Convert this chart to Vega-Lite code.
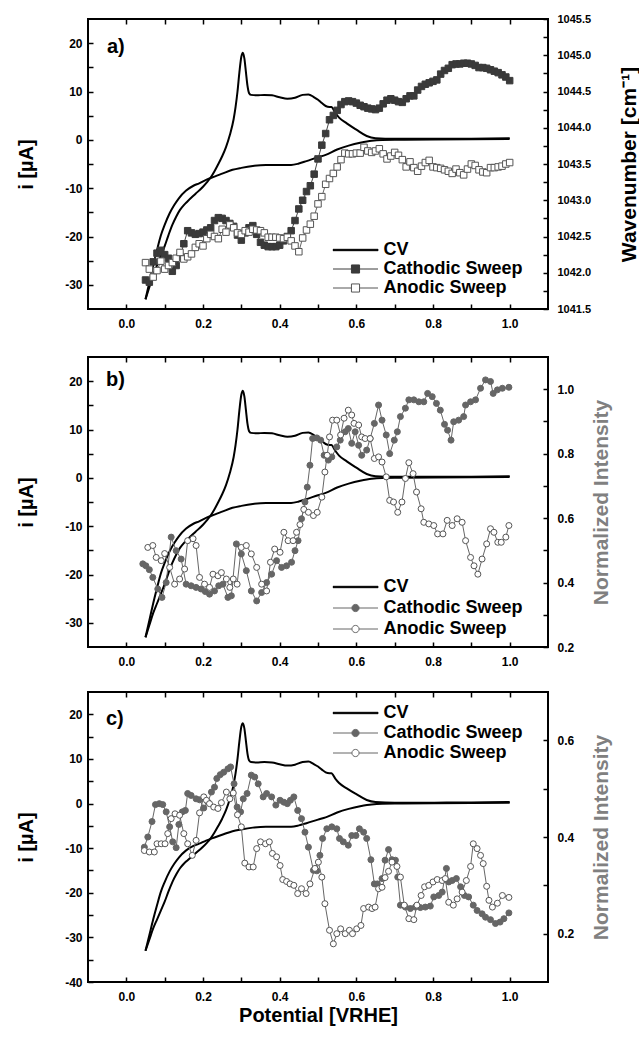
{
"$schema":"https://vega.github.io/schema/vega-lite/v6.json",
"padding":{"left":15,"top":12,"right":0,"bottom":0},
"config":{
 "font":"Liberation Sans",
 "view":{"stroke":"black","strokeWidth":2},
 "axis":{"domain":false,"grid":false,"tickColor":"black","tickWidth":1.5,"tickSize":-5,"labelFont":"Liberation Sans","labelFontSize":12,"labelFontWeight":"bold","labelColor":"black","titleFont":"Liberation Sans","titleFontSize":20,"titleFontWeight":"bold","titleColor":"black","labelOverlap":false,"labelFlush":false,"labelBound":false},
 "legend":{"labelFont":"Liberation Sans","labelFontSize":18,"labelFontWeight":"bold","labelColor":"black","padding":0,"orient":"none"},
 "title":{"font":"Liberation Sans","fontSize":20,"fontWeight":"bold","color":"black","anchor":"start","frame":"group","orient":"top","baseline":"alphabetic"}
},
"datasets":{
"cv":[
{"E":0.05,"I":-33,"br":"p"},{"E":0.06,"I":-30.5,"br":"p"},{"E":0.07,"I":-28,"br":"p"},{"E":0.08,"I":-26,"br":"p"},{"E":0.09,"I":-24,"br":"p"},{"E":0.1,"I":-22,"br":"p"},{"E":0.11,"I":-19.7,"br":"p"},{"E":0.12,"I":-17.6,"br":"p"},{"E":0.13,"I":-15.9,"br":"p"},{"E":0.14,"I":-14.5,"br":"p"},{"E":0.15,"I":-13.5,"br":"p"},{"E":0.16,"I":-12.7,"br":"p"},{"E":0.18,"I":-11.2,"br":"p"},{"E":0.2,"I":-9.7,"br":"p"},{"E":0.21,"I":-8.8,"br":"p"},{"E":0.22,"I":-7.8,"br":"p"},{"E":0.23,"I":-6.5,"br":"p"},{"E":0.24,"I":-5.0,"br":"p"},{"E":0.25,"I":-3.4,"br":"p"},{"E":0.26,"I":-1.5,"br":"p"},{"E":0.27,"I":1.0,"br":"p"},{"E":0.28,"I":4.3,"br":"p"},{"E":0.285,"I":6.8,"br":"p"},{"E":0.29,"I":10.0,"br":"p"},{"E":0.295,"I":14.0,"br":"p"},{"E":0.3,"I":17.2,"br":"p"},{"E":0.304,"I":18.0,"br":"p"},{"E":0.308,"I":16.8,"br":"p"},{"E":0.312,"I":14.0,"br":"p"},{"E":0.316,"I":11.2,"br":"p"},{"E":0.32,"I":9.7,"br":"p"},{"E":0.325,"I":9.3,"br":"p"},{"E":0.34,"I":9.2,"br":"p"},{"E":0.36,"I":9.3,"br":"p"},{"E":0.38,"I":9.2,"br":"p"},{"E":0.4,"I":8.8,"br":"p"},{"E":0.42,"I":8.5,"br":"p"},{"E":0.44,"I":8.7,"br":"p"},{"E":0.46,"I":9.3,"br":"p"},{"E":0.475,"I":9.4,"br":"p"},{"E":0.49,"I":8.8,"br":"p"},{"E":0.5,"I":8.3,"br":"p"},{"E":0.51,"I":7.6,"br":"p"},{"E":0.52,"I":7.0,"br":"p"},{"E":0.53,"I":6.8,"br":"p"},{"E":0.535,"I":6.8,"br":"p"},{"E":0.545,"I":5.6,"br":"p"},{"E":0.555,"I":4.6,"br":"p"},{"E":0.575,"I":3.4,"br":"p"},{"E":0.6,"I":2.1,"br":"p"},{"E":0.627,"I":0.8,"br":"p"},{"E":0.65,"I":0.35,"br":"p"},{"E":0.7,"I":0.2,"br":"p"},{"E":0.8,"I":0.2,"br":"p"},{"E":0.9,"I":0.25,"br":"p"},{"E":1.0,"I":0.35,"br":"p"},
{"E":0.05,"I":-33,"br":"l"},{"E":0.06,"I":-29.5,"br":"l"},{"E":0.07,"I":-26,"br":"l"},{"E":0.08,"I":-22.8,"br":"l"},{"E":0.09,"I":-19.8,"br":"l"},{"E":0.1,"I":-17.6,"br":"l"},{"E":0.113,"I":-15.2,"br":"l"},{"E":0.125,"I":-13.5,"br":"l"},{"E":0.137,"I":-12.1,"br":"l"},{"E":0.156,"I":-10.5,"br":"l"},{"E":0.175,"I":-9.5,"br":"l"},{"E":0.19,"I":-9.0,"br":"l"},{"E":0.208,"I":-8.3,"br":"l"},{"E":0.23,"I":-7.6,"br":"l"},{"E":0.25,"I":-7.0,"br":"l"},{"E":0.277,"I":-6.2,"br":"l"},{"E":0.3,"I":-5.8,"br":"l"},{"E":0.33,"I":-5.4,"br":"l"},{"E":0.364,"I":-5.2,"br":"l"},{"E":0.4,"I":-5.2,"br":"l"},{"E":0.43,"I":-5.2,"br":"l"},{"E":0.45,"I":-4.9,"br":"l"},{"E":0.47,"I":-4.4,"br":"l"},{"E":0.5,"I":-3.6,"br":"l"},{"E":0.52,"I":-3.1,"br":"l"},{"E":0.55,"I":-2.0,"br":"l"},{"E":0.58,"I":-1.2,"br":"l"},{"E":0.61,"I":-0.6,"br":"l"},{"E":0.64,"I":-0.2,"br":"l"},{"E":0.7,"I":0.0,"br":"l"},{"E":0.8,"I":0.05,"br":"l"},{"E":0.9,"I":0.1,"br":"l"},{"E":1.0,"I":0.2,"br":"l"}
],
"aC":[
{"E":0.05,"v":1041.90},{"E":0.06,"v":1041.87},{"E":0.07,"v":1042.15},{"E":0.08,"v":1042.27},{"E":0.09,"v":1042.31},{"E":0.1,"v":1042.25},{"E":0.11,"v":1042.2},{"E":0.12,"v":1042.02},{"E":0.13,"v":1042.1},{"E":0.14,"v":1042.22},{"E":0.15,"v":1042.4},{"E":0.16,"v":1042.58},{"E":0.17,"v":1042.55},{"E":0.18,"v":1042.53},{"E":0.19,"v":1042.54},{"E":0.2,"v":1042.56},{"E":0.21,"v":1042.59},{"E":0.22,"v":1042.62},{"E":0.23,"v":1042.72},{"E":0.24,"v":1042.76},{"E":0.25,"v":1042.75},{"E":0.26,"v":1042.72},{"E":0.27,"v":1042.68},{"E":0.28,"v":1042.64},{"E":0.29,"v":1042.52},{"E":0.3,"v":1042.45},{"E":0.31,"v":1042.55},{"E":0.32,"v":1042.62},{"E":0.33,"v":1042.65},{"E":0.34,"v":1042.53},{"E":0.35,"v":1042.42},{"E":0.36,"v":1042.38},{"E":0.37,"v":1042.36},{"E":0.38,"v":1042.36},{"E":0.39,"v":1042.36},{"E":0.4,"v":1042.38},{"E":0.41,"v":1042.44},{"E":0.42,"v":1042.5},{"E":0.43,"v":1042.58},{"E":0.44,"v":1042.72},{"E":0.45,"v":1042.88},{"E":0.46,"v":1043.0},{"E":0.47,"v":1043.12},{"E":0.48,"v":1043.2},{"E":0.49,"v":1043.36},{"E":0.5,"v":1043.57},{"E":0.51,"v":1043.76},{"E":0.52,"v":1043.92},{"E":0.53,"v":1044.11},{"E":0.54,"v":1044.17},{"E":0.55,"v":1044.24},{"E":0.56,"v":1044.32},{"E":0.57,"v":1044.36},{"E":0.58,"v":1044.37},{"E":0.59,"v":1044.36},{"E":0.6,"v":1044.34},{"E":0.61,"v":1044.31},{"E":0.62,"v":1044.29},{"E":0.63,"v":1044.27},{"E":0.64,"v":1044.26},{"E":0.65,"v":1044.25},{"E":0.66,"v":1044.27},{"E":0.67,"v":1044.33},{"E":0.68,"v":1044.38},{"E":0.69,"v":1044.4},{"E":0.7,"v":1044.38},{"E":0.71,"v":1044.36},{"E":0.72,"v":1044.35},{"E":0.73,"v":1044.4},{"E":0.74,"v":1044.44},{"E":0.75,"v":1044.44},{"E":0.76,"v":1044.52},{"E":0.77,"v":1044.57},{"E":0.78,"v":1044.6},{"E":0.79,"v":1044.62},{"E":0.8,"v":1044.64},{"E":0.81,"v":1044.66},{"E":0.82,"v":1044.74},{"E":0.83,"v":1044.79},{"E":0.84,"v":1044.82},{"E":0.85,"v":1044.87},{"E":0.86,"v":1044.88},{"E":0.87,"v":1044.88},{"E":0.88,"v":1044.89},{"E":0.89,"v":1044.89},{"E":0.9,"v":1044.88},{"E":0.91,"v":1044.86},{"E":0.92,"v":1044.83},{"E":0.93,"v":1044.83},{"E":0.94,"v":1044.82},{"E":0.95,"v":1044.8},{"E":0.96,"v":1044.78},{"E":0.97,"v":1044.76},{"E":0.98,"v":1044.73},{"E":0.99,"v":1044.7},{"E":1.0,"v":1044.65}
],
"aA":[
{"E":0.05,"v":1042.14},{"E":0.06,"v":1042.05},{"E":0.07,"v":1041.94},{"E":0.08,"v":1042.03},{"E":0.09,"v":1042.16},{"E":0.1,"v":1042.05},{"E":0.11,"v":1042.1},{"E":0.12,"v":1042.14},{"E":0.13,"v":1042.2},{"E":0.14,"v":1042.28},{"E":0.15,"v":1042.19},{"E":0.16,"v":1042.22},{"E":0.17,"v":1042.26},{"E":0.18,"v":1042.35},{"E":0.19,"v":1042.4},{"E":0.2,"v":1042.37},{"E":0.21,"v":1042.47},{"E":0.22,"v":1042.53},{"E":0.23,"v":1042.5},{"E":0.24,"v":1042.47},{"E":0.25,"v":1042.6},{"E":0.26,"v":1042.56},{"E":0.27,"v":1042.66},{"E":0.28,"v":1042.62},{"E":0.29,"v":1042.55},{"E":0.3,"v":1042.53},{"E":0.31,"v":1042.58},{"E":0.32,"v":1042.56},{"E":0.33,"v":1042.6},{"E":0.34,"v":1042.59},{"E":0.35,"v":1042.58},{"E":0.36,"v":1042.55},{"E":0.37,"v":1042.49},{"E":0.38,"v":1042.49},{"E":0.39,"v":1042.49},{"E":0.4,"v":1042.48},{"E":0.41,"v":1042.47},{"E":0.42,"v":1042.49},{"E":0.43,"v":1042.44},{"E":0.44,"v":1042.37},{"E":0.45,"v":1042.29},{"E":0.46,"v":1042.48},{"E":0.47,"v":1042.59},{"E":0.48,"v":1042.67},{"E":0.49,"v":1042.78},{"E":0.5,"v":1042.95},{"E":0.51,"v":1043.05},{"E":0.52,"v":1043.22},{"E":0.53,"v":1043.3},{"E":0.54,"v":1043.37},{"E":0.55,"v":1043.46},{"E":0.56,"v":1043.56},{"E":0.57,"v":1043.65},{"E":0.58,"v":1043.64},{"E":0.59,"v":1043.64},{"E":0.6,"v":1043.65},{"E":0.61,"v":1043.65},{"E":0.62,"v":1043.73},{"E":0.63,"v":1043.68},{"E":0.64,"v":1043.66},{"E":0.65,"v":1043.68},{"E":0.66,"v":1043.71},{"E":0.67,"v":1043.64},{"E":0.68,"v":1043.57},{"E":0.69,"v":1043.61},{"E":0.7,"v":1043.66},{"E":0.71,"v":1043.62},{"E":0.72,"v":1043.56},{"E":0.73,"v":1043.46},{"E":0.74,"v":1043.53},{"E":0.75,"v":1043.45},{"E":0.76,"v":1043.4},{"E":0.77,"v":1043.47},{"E":0.78,"v":1043.52},{"E":0.79,"v":1043.55},{"E":0.8,"v":1043.46},{"E":0.81,"v":1043.45},{"E":0.82,"v":1043.44},{"E":0.83,"v":1043.42},{"E":0.84,"v":1043.4},{"E":0.85,"v":1043.37},{"E":0.86,"v":1043.43},{"E":0.87,"v":1043.38},{"E":0.88,"v":1043.35},{"E":0.89,"v":1043.43},{"E":0.9,"v":1043.5},{"E":0.91,"v":1043.48},{"E":0.92,"v":1043.42},{"E":0.93,"v":1043.39},{"E":0.94,"v":1043.38},{"E":0.95,"v":1043.45},{"E":0.96,"v":1043.45},{"E":0.97,"v":1043.46},{"E":0.98,"v":1043.47},{"E":0.99,"v":1043.5},{"E":1.0,"v":1043.52}
],
"bC":[
{"E":0.043,"v":0.458},{"E":0.051,"v":0.452},{"E":0.06,"v":0.44},{"E":0.069,"v":0.416},{"E":0.082,"v":0.38},{"E":0.093,"v":0.354},{"E":0.104,"v":0.4},{"E":0.117,"v":0.541},{"E":0.13,"v":0.499},{"E":0.143,"v":0.473},{"E":0.156,"v":0.395},{"E":0.169,"v":0.39},{"E":0.182,"v":0.385},{"E":0.195,"v":0.38},{"E":0.206,"v":0.372},{"E":0.217,"v":0.364},{"E":0.23,"v":0.374},{"E":0.241,"v":0.39},{"E":0.252,"v":0.395},{"E":0.265,"v":0.354},{"E":0.274,"v":0.359},{"E":0.287,"v":0.52},{"E":0.3,"v":0.489},{"E":0.313,"v":0.437},{"E":0.326,"v":0.374},{"E":0.34,"v":0.343},{"E":0.353,"v":0.369},{"E":0.366,"v":0.4},{"E":0.379,"v":0.426},{"E":0.392,"v":0.468},{"E":0.405,"v":0.447},{"E":0.418,"v":0.452},{"E":0.431,"v":0.463},{"E":0.44,"v":0.499},{"E":0.448,"v":0.53},{"E":0.457,"v":0.598},{"E":0.466,"v":0.65},{"E":0.472,"v":0.696},{"E":0.479,"v":0.764},{"E":0.486,"v":0.847},{"E":0.497,"v":0.849},{"E":0.507,"v":0.842},{"E":0.516,"v":0.795},{"E":0.527,"v":0.78},{"E":0.536,"v":0.79},{"E":0.549,"v":0.821},{"E":0.558,"v":0.842},{"E":0.571,"v":0.868},{"E":0.579,"v":0.878},{"E":0.588,"v":0.832},{"E":0.597,"v":0.868},{"E":0.606,"v":0.826},{"E":0.614,"v":0.795},{"E":0.627,"v":0.811},{"E":0.636,"v":0.847},{"E":0.647,"v":0.894},{"E":0.658,"v":0.951},{"E":0.667,"v":0.904},{"E":0.678,"v":0.858},{"E":0.687,"v":0.8},{"E":0.699,"v":0.842},{"E":0.707,"v":0.868},{"E":0.715,"v":0.915},{"E":0.728,"v":0.941},{"E":0.737,"v":0.967},{"E":0.75,"v":0.967},{"E":0.763,"v":0.961},{"E":0.776,"v":0.961},{"E":0.786,"v":0.987},{"E":0.798,"v":0.977},{"E":0.809,"v":0.956},{"E":0.819,"v":0.935},{"E":0.83,"v":0.891},{"E":0.838,"v":0.873},{"E":0.847,"v":0.842},{"E":0.854,"v":0.899},{"E":0.867,"v":0.904},{"E":0.88,"v":0.915},{"E":0.885,"v":0.951},{"E":0.898,"v":0.961},{"E":0.911,"v":0.967},{"E":0.924,"v":1.003},{"E":0.937,"v":1.029},{"E":0.95,"v":1.024},{"E":0.957,"v":0.987},{"E":0.968,"v":0.998},{"E":0.981,"v":1.003},{"E":0.998,"v":1.006}
],
"bA":[
{"E":0.056,"v":0.509},{"E":0.069,"v":0.515},{"E":0.078,"v":0.478},{"E":0.091,"v":0.468},{"E":0.1,"v":0.49},{"E":0.113,"v":0.447},{"E":0.126,"v":0.395},{"E":0.139,"v":0.411},{"E":0.152,"v":0.442},{"E":0.16,"v":0.53},{"E":0.174,"v":0.536},{"E":0.182,"v":0.515},{"E":0.191,"v":0.416},{"E":0.204,"v":0.395},{"E":0.217,"v":0.385},{"E":0.226,"v":0.426},{"E":0.239,"v":0.421},{"E":0.248,"v":0.431},{"E":0.261,"v":0.411},{"E":0.27,"v":0.385},{"E":0.279,"v":0.411},{"E":0.289,"v":0.395},{"E":0.3,"v":0.509},{"E":0.313,"v":0.515},{"E":0.326,"v":0.489},{"E":0.34,"v":0.447},{"E":0.353,"v":0.395},{"E":0.366,"v":0.374},{"E":0.376,"v":0.463},{"E":0.387,"v":0.504},{"E":0.401,"v":0.494},{"E":0.411,"v":0.556},{"E":0.422,"v":0.53},{"E":0.435,"v":0.53},{"E":0.444,"v":0.556},{"E":0.453,"v":0.58},{"E":0.463,"v":0.627},{"E":0.475,"v":0.618},{"E":0.488,"v":0.608},{"E":0.498,"v":0.618},{"E":0.51,"v":0.665},{"E":0.518,"v":0.743},{"E":0.524,"v":0.795},{"E":0.53,"v":0.852},{"E":0.538,"v":0.904},{"E":0.549,"v":0.904},{"E":0.559,"v":0.858},{"E":0.568,"v":0.91},{"E":0.579,"v":0.935},{"E":0.588,"v":0.92},{"E":0.594,"v":0.894},{"E":0.606,"v":0.889},{"E":0.614,"v":0.852},{"E":0.623,"v":0.847},{"E":0.636,"v":0.847},{"E":0.647,"v":0.785},{"E":0.658,"v":0.79},{"E":0.667,"v":0.774},{"E":0.678,"v":0.728},{"E":0.687,"v":0.655},{"E":0.697,"v":0.65},{"E":0.708,"v":0.618},{"E":0.719,"v":0.65},{"E":0.728,"v":0.723},{"E":0.737,"v":0.772},{"E":0.748,"v":0.738},{"E":0.757,"v":0.681},{"E":0.769,"v":0.629},{"E":0.776,"v":0.587},{"E":0.789,"v":0.582},{"E":0.802,"v":0.577},{"E":0.812,"v":0.551},{"E":0.826,"v":0.551},{"E":0.837,"v":0.593},{"E":0.85,"v":0.577},{"E":0.863,"v":0.598},{"E":0.876,"v":0.587},{"E":0.885,"v":0.53},{"E":0.898,"v":0.478},{"E":0.907,"v":0.452},{"E":0.917,"v":0.426},{"E":0.928,"v":0.473},{"E":0.94,"v":0.52},{"E":0.95,"v":0.567},{"E":0.959,"v":0.556},{"E":0.969,"v":0.525},{"E":0.978,"v":0.525},{"E":0.99,"v":0.541},{"E":0.998,"v":0.577}
],
"cC":[
{"E":0.047,"v":0.379},{"E":0.056,"v":0.4},{"E":0.067,"v":0.432},{"E":0.076,"v":0.467},{"E":0.086,"v":0.469},{"E":0.095,"v":0.467},{"E":0.104,"v":0.452},{"E":0.113,"v":0.421},{"E":0.121,"v":0.39},{"E":0.13,"v":0.378},{"E":0.137,"v":0.426},{"E":0.146,"v":0.452},{"E":0.154,"v":0.455},{"E":0.16,"v":0.49},{"E":0.169,"v":0.486},{"E":0.182,"v":0.479},{"E":0.191,"v":0.477},{"E":0.202,"v":0.46},{"E":0.213,"v":0.472},{"E":0.222,"v":0.493},{"E":0.23,"v":0.503},{"E":0.236,"v":0.521},{"E":0.245,"v":0.529},{"E":0.254,"v":0.534},{"E":0.265,"v":0.541},{"E":0.272,"v":0.545},{"E":0.281,"v":0.51},{"E":0.289,"v":0.462},{"E":0.298,"v":0.452},{"E":0.305,"v":0.479},{"E":0.315,"v":0.49},{"E":0.326,"v":0.528},{"E":0.335,"v":0.524},{"E":0.344,"v":0.51},{"E":0.357,"v":0.483},{"E":0.366,"v":0.49},{"E":0.379,"v":0.483},{"E":0.39,"v":0.466},{"E":0.401,"v":0.476},{"E":0.411,"v":0.472},{"E":0.42,"v":0.469},{"E":0.428,"v":0.476},{"E":0.437,"v":0.483},{"E":0.447,"v":0.455},{"E":0.457,"v":0.438},{"E":0.466,"v":0.41},{"E":0.475,"v":0.379},{"E":0.488,"v":0.331},{"E":0.497,"v":0.33},{"E":0.505,"v":0.362},{"E":0.512,"v":0.397},{"E":0.523,"v":0.417},{"E":0.536,"v":0.421},{"E":0.549,"v":0.417},{"E":0.556,"v":0.397},{"E":0.566,"v":0.39},{"E":0.579,"v":0.383},{"E":0.588,"v":0.403},{"E":0.599,"v":0.403},{"E":0.608,"v":0.417},{"E":0.619,"v":0.41},{"E":0.627,"v":0.397},{"E":0.638,"v":0.353},{"E":0.647,"v":0.303},{"E":0.655,"v":0.303},{"E":0.667,"v":0.314},{"E":0.675,"v":0.352},{"E":0.684,"v":0.374},{"E":0.693,"v":0.353},{"E":0.702,"v":0.352},{"E":0.708,"v":0.317},{"E":0.715,"v":0.259},{"E":0.728,"v":0.255},{"E":0.741,"v":0.252},{"E":0.754,"v":0.255},{"E":0.767,"v":0.254},{"E":0.78,"v":0.255},{"E":0.793,"v":0.257},{"E":0.802,"v":0.276},{"E":0.815,"v":0.279},{"E":0.824,"v":0.286},{"E":0.835,"v":0.335},{"E":0.841,"v":0.307},{"E":0.85,"v":0.31},{"E":0.861,"v":0.314},{"E":0.872,"v":0.297},{"E":0.882,"v":0.279},{"E":0.893,"v":0.276},{"E":0.905,"v":0.259},{"E":0.915,"v":0.248},{"E":0.928,"v":0.241},{"E":0.937,"v":0.234},{"E":0.95,"v":0.229},{"E":0.963,"v":0.221},{"E":0.975,"v":0.224},{"E":0.985,"v":0.231},{"E":0.998,"v":0.243}
],
"cA":[
{"E":0.047,"v":0.372},{"E":0.06,"v":0.369},{"E":0.073,"v":0.369},{"E":0.08,"v":0.386},{"E":0.091,"v":0.386},{"E":0.101,"v":0.386},{"E":0.108,"v":0.407},{"E":0.117,"v":0.438},{"E":0.127,"v":0.448},{"E":0.139,"v":0.445},{"E":0.15,"v":0.407},{"E":0.16,"v":0.386},{"E":0.172,"v":0.362},{"E":0.182,"v":0.393},{"E":0.191,"v":0.45},{"E":0.202,"v":0.483},{"E":0.209,"v":0.476},{"E":0.217,"v":0.469},{"E":0.228,"v":0.462},{"E":0.239,"v":0.459},{"E":0.248,"v":0.471},{"E":0.261,"v":0.493},{"E":0.27,"v":0.479},{"E":0.279,"v":0.491},{"E":0.29,"v":0.446},{"E":0.3,"v":0.421},{"E":0.309,"v":0.346},{"E":0.32,"v":0.338},{"E":0.331,"v":0.338},{"E":0.34,"v":0.376},{"E":0.35,"v":0.39},{"E":0.363,"v":0.386},{"E":0.373,"v":0.39},{"E":0.381,"v":0.366},{"E":0.392,"v":0.359},{"E":0.401,"v":0.341},{"E":0.408,"v":0.312},{"E":0.418,"v":0.308},{"E":0.427,"v":0.303},{"E":0.437,"v":0.3},{"E":0.447,"v":0.283},{"E":0.457,"v":0.293},{"E":0.469,"v":0.283},{"E":0.479,"v":0.303},{"E":0.492,"v":0.335},{"E":0.501,"v":0.348},{"E":0.51,"v":0.317},{"E":0.518,"v":0.262},{"E":0.53,"v":0.207},{"E":0.54,"v":0.179},{"E":0.549,"v":0.2},{"E":0.559,"v":0.21},{"E":0.571,"v":0.2},{"E":0.582,"v":0.207},{"E":0.59,"v":0.2},{"E":0.601,"v":0.21},{"E":0.612,"v":0.217},{"E":0.619,"v":0.252},{"E":0.632,"v":0.255},{"E":0.641,"v":0.252},{"E":0.649,"v":0.255},{"E":0.658,"v":0.293},{"E":0.667,"v":0.296},{"E":0.675,"v":0.316},{"E":0.684,"v":0.329},{"E":0.693,"v":0.348},{"E":0.706,"v":0.339},{"E":0.715,"v":0.317},{"E":0.725,"v":0.259},{"E":0.737,"v":0.231},{"E":0.75,"v":0.229},{"E":0.758,"v":0.259},{"E":0.769,"v":0.279},{"E":0.778,"v":0.297},{"E":0.789,"v":0.3},{"E":0.8,"v":0.307},{"E":0.811,"v":0.312},{"E":0.824,"v":0.31},{"E":0.832,"v":0.314},{"E":0.841,"v":0.265},{"E":0.853,"v":0.259},{"E":0.863,"v":0.272},{"E":0.876,"v":0.286},{"E":0.887,"v":0.31},{"E":0.898,"v":0.339},{"E":0.905,"v":0.386},{"E":0.915,"v":0.376},{"E":0.924,"v":0.362},{"E":0.931,"v":0.345},{"E":0.94,"v":0.298},{"E":0.946,"v":0.269},{"E":0.955,"v":0.255},{"E":0.968,"v":0.263},{"E":0.981,"v":0.279},{"E":0.998,"v":0.275}
]
},
"spacing":25,
"resolve":{"scale":{"color":"independent"}},
"vconcat":[
{
 "width":460,"height":290,
 "title":{"text":"a)","offset":-44,"dx":19},
 "resolve":{"scale":{"y":"independent"},"axis":{"x":"independent"}},
 "layer":[
  {
   "data":{"name":"cv"},
   "mark":{"type":"line","strokeWidth":2,"interpolate":"monotone"},
   "encoding":{
    "x":{"field":"E","type":"quantitative","scale":{"domain":[-0.1,1.1],"nice":false,"zero":false},"axis":{"orient":"bottom","values":[0,0.1,0.2,0.3,0.4,0.5,0.6,0.7,0.8,0.9,1],"labelExpr":"round(datum.value*10) % 2 === 0 ? format(datum.value, '.1f') : ''","title":null,"labelPadding":14}},
    "y":{"field":"I","type":"quantitative","scale":{"domain":[-35,25],"nice":false,"zero":false},"axis":{"orient":"left","values":[-30,-25,-20,-15,-10,-5,0,5,10,15,20],"labelExpr":"datum.value % 10 === 0 ? '' + datum.value : ''","title":"i [µA]","titlePadding":28,"labelPadding":11}},
    "detail":{"field":"br"},
    "color":{"datum":"CV","type":"nominal","scale":{"domain":["CV","Cathodic Sweep","Anodic Sweep"],"range":["black","#3a3a3a","#555555"]},
     "legend":{"title":null,"orient":"none","legendX":244.5,"legendY":223,"symbolSize":2025,"clipHeight":16,"rowPadding":1,"labelOffset":5,
      "encode":{"symbols":{"update":{
       "shape":{"signal":"datum.value === 'CV' ? 'M-1,-0.03H1V0.03H-1Z' : 'M-1,0H-0.18M0.18,0H1M-0.18,-0.18H0.18V0.18H-0.18Z'"},
       "size":{"value":2025},
       "fill":{"signal":"datum.value === 'Cathodic Sweep' ? '#3a3a3a' : datum.value === 'Anodic Sweep' ? 'white' : 'black'"},
       "stroke":{"signal":"datum.value === 'CV' ? 'black' : datum.value === 'Cathodic Sweep' ? '#3a3a3a' : '#555555'"},
       "strokeWidth":{"value":1},
       "opacity":{"value":1}}}}}}
   }
  },
  {
   "encoding":{
    "x":{"field":"E","type":"quantitative","scale":{"domain":[-0.1,1.1],"nice":false,"zero":false},"axis":{"orient":"top","values":[0,0.1,0.2,0.3,0.4,0.5,0.6,0.7,0.8,0.9,1],"labels":false,"title":null}},
    "y":{"field":"v","type":"quantitative","scale":{"domain":[1041.5,1045.5],"nice":false,"zero":false},"axis":{"orient":"right","values":[1041.5,1041.75,1042,1042.25,1042.5,1042.75,1043,1043.25,1043.5,1043.75,1044,1044.25,1044.5,1044.75,1045,1045.25,1045.5],"labelExpr":"round(datum.value*4) % 2 === 0 ? format(datum.value, '.1f') : ''","labelFontSize":11,"title":"Wavenumber [cm⁻¹]","titleFontSize":21,"titleAngle":270,"titleBaseline":"top","titlePadding":28,"labelPadding":14}}
   },
   "layer":[
    {"data":{"name":"aC"},"mark":{"type":"line","color":"#444444","strokeWidth":1}},
    {"data":{"name":"aC"},"mark":{"type":"point","shape":"square","filled":true,"fill":"#3a3a3a","stroke":"#3a3a3a","strokeWidth":1,"size":42,"opacity":1}},
    {"data":{"name":"aA"},"mark":{"type":"line","color":"#666666","strokeWidth":1}},
    {"data":{"name":"aA"},"mark":{"type":"point","shape":"square","filled":true,"fill":"white","stroke":"#555555","strokeWidth":1,"size":42,"opacity":1}}
   ]
  }
 ]
},
{
"spacing":22,
"resolve":{"scale":{"color":"independent"}},
"vconcat":[
{
 "width":460,"height":290,
 "title":{"text":"b)","offset":-34,"dx":18},
 "resolve":{"scale":{"y":"independent"},"axis":{"x":"independent"}},
 "layer":[
  {
   "data":{"name":"cv"},
   "mark":{"type":"line","strokeWidth":2,"interpolate":"monotone"},
   "encoding":{
    "x":{"field":"E","type":"quantitative","scale":{"domain":[-0.1,1.1],"nice":false,"zero":false},"axis":{"orient":"bottom","values":[0,0.1,0.2,0.3,0.4,0.5,0.6,0.7,0.8,0.9,1],"labelExpr":"round(datum.value*10) % 2 === 0 ? format(datum.value, '.1f') : ''","title":null,"labelPadding":14}},
    "y":{"field":"I","type":"quantitative","scale":{"domain":[-35,25],"nice":false,"zero":false},"axis":{"orient":"left","values":[-30,-25,-20,-15,-10,-5,0,5,10,15,20],"labelExpr":"datum.value % 10 === 0 ? '' + datum.value : ''","title":"i [µA]","titlePadding":28,"labelPadding":11}},
    "detail":{"field":"br"},
    "color":{"datum":"CV","type":"nominal","scale":{"domain":["CV","Cathodic Sweep","Anodic Sweep"],"range":["black","#666666","#666666"]},
     "legend":{"title":null,"orient":"none","legendX":244.5,"legendY":222,"symbolSize":2025,"clipHeight":16,"rowPadding":3,"labelOffset":5,
      "encode":{"symbols":{"update":{
       "shape":{"signal":"datum.value === 'CV' ? 'M-1,-0.03H1V0.03H-1Z' : 'M-1,0H-0.16M0.16,0H1M-0.16,0A0.16,0.16 0 1,0 0.16,0A0.16,0.16 0 1,0 -0.16,0Z'"},
       "size":{"value":2025},
       "fill":{"signal":"datum.value === 'Cathodic Sweep' ? '#666666' : datum.value === 'Anodic Sweep' ? 'white' : 'black'"},
       "stroke":{"signal":"datum.value === 'CV' ? 'black' : '#666666'"},
       "strokeWidth":{"value":1},
       "opacity":{"value":1}}}}}}
   }
  },
  {
   "encoding":{
    "x":{"field":"E","type":"quantitative","scale":{"domain":[-0.1,1.1],"nice":false,"zero":false},"axis":{"orient":"top","values":[0,0.1,0.2,0.3,0.4,0.5,0.6,0.7,0.8,0.9,1],"labels":false,"title":null}},
    "y":{"field":"v","type":"quantitative","scale":{"domain":[0.2,1.1],"nice":false,"zero":false},"axis":{"orient":"right","values":[0.2,0.3,0.4,0.5,0.6,0.7,0.8,0.9,1.0],"labelExpr":"round(datum.value*10) % 2 === 0 ? format(datum.value, '.1f') : ''","title":"Normalized Intensity","titleColor":"#808080","titleFontSize":21,"titleAngle":270,"titleBaseline":"top","titlePadding":17,"labelPadding":14}}
   },
   "layer":[
    {"data":{"name":"bC"},"mark":{"type":"line","color":"#666666","strokeWidth":1}},
    {"data":{"name":"bC"},"mark":{"type":"point","shape":"circle","filled":true,"fill":"#666666","stroke":"#666666","strokeWidth":1,"size":36,"opacity":1}},
    {"data":{"name":"bA"},"mark":{"type":"line","color":"#666666","strokeWidth":1}},
    {"data":{"name":"bA"},"mark":{"type":"point","shape":"circle","filled":true,"fill":"white","stroke":"#555555","strokeWidth":1,"size":36,"opacity":1}}
   ]
  }
 ]
},
{
 "width":460,"height":290,
 "title":{"text":"c)","offset":-38,"dx":18},
 "resolve":{"scale":{"y":"independent"},"axis":{"x":"independent"}},
 "layer":[
  {
   "data":{"name":"cv"},
   "mark":{"type":"line","strokeWidth":2,"interpolate":"monotone"},
   "encoding":{
    "x":{"field":"E","type":"quantitative","scale":{"domain":[-0.1,1.1],"nice":false,"zero":false},"axis":{"orient":"bottom","values":[0,0.1,0.2,0.3,0.4,0.5,0.6,0.7,0.8,0.9,1],"labelExpr":"round(datum.value*10) % 2 === 0 ? format(datum.value, '.1f') : ''","title":"Potential [VRHE]","titlePadding":3,"labelPadding":14}},
    "y":{"field":"I","type":"quantitative","scale":{"domain":[-40,25],"nice":false,"zero":false},"axis":{"orient":"left","values":[-40,-35,-30,-25,-20,-15,-10,-5,0,5,10,15,20],"labelExpr":"datum.value % 10 === 0 ? '' + datum.value : ''","title":"i [µA]","titlePadding":28,"labelPadding":11}},
    "detail":{"field":"br"},
    "color":{"datum":"CV","type":"nominal","scale":{"domain":["CV","Cathodic Sweep","Anodic Sweep"],"range":["black","#666666","#666666"]},
     "legend":{"title":null,"orient":"none","legendX":244.5,"legendY":13,"symbolSize":2025,"clipHeight":16,"rowPadding":2,"labelOffset":5,
      "encode":{"symbols":{"update":{
       "shape":{"signal":"datum.value === 'CV' ? 'M-1,-0.03H1V0.03H-1Z' : 'M-1,0H-0.16M0.16,0H1M-0.16,0A0.16,0.16 0 1,0 0.16,0A0.16,0.16 0 1,0 -0.16,0Z'"},
       "size":{"value":2025},
       "fill":{"signal":"datum.value === 'Cathodic Sweep' ? '#666666' : datum.value === 'Anodic Sweep' ? 'white' : 'black'"},
       "stroke":{"signal":"datum.value === 'CV' ? 'black' : '#666666'"},
       "strokeWidth":{"value":1},
       "opacity":{"value":1}}}}}}
   }
  },
  {
   "encoding":{
    "x":{"field":"E","type":"quantitative","scale":{"domain":[-0.1,1.1],"nice":false,"zero":false},"axis":{"orient":"top","values":[0,0.1,0.2,0.3,0.4,0.5,0.6,0.7,0.8,0.9,1],"labels":false,"title":null}},
    "y":{"field":"v","type":"quantitative","scale":{"domain":[0.1,0.7],"nice":false,"zero":false},"axis":{"orient":"right","values":[0.2,0.3,0.4,0.5,0.6],"labelExpr":"round(datum.value*10) % 2 === 0 ? format(datum.value, '.1f') : ''","title":"Normalized Intensity","titleColor":"#808080","titleFontSize":21,"titleAngle":270,"titleBaseline":"top","titlePadding":17,"labelPadding":14}}
   },
   "layer":[
    {"data":{"name":"cC"},"mark":{"type":"line","color":"#666666","strokeWidth":1}},
    {"data":{"name":"cC"},"mark":{"type":"point","shape":"circle","filled":true,"fill":"#666666","stroke":"#666666","strokeWidth":1,"size":36,"opacity":1}},
    {"data":{"name":"cA"},"mark":{"type":"line","color":"#666666","strokeWidth":1}},
    {"data":{"name":"cA"},"mark":{"type":"point","shape":"circle","filled":true,"fill":"white","stroke":"#555555","strokeWidth":1,"size":36,"opacity":1}}
   ]
  }
 ]
}
]
}
]
}
